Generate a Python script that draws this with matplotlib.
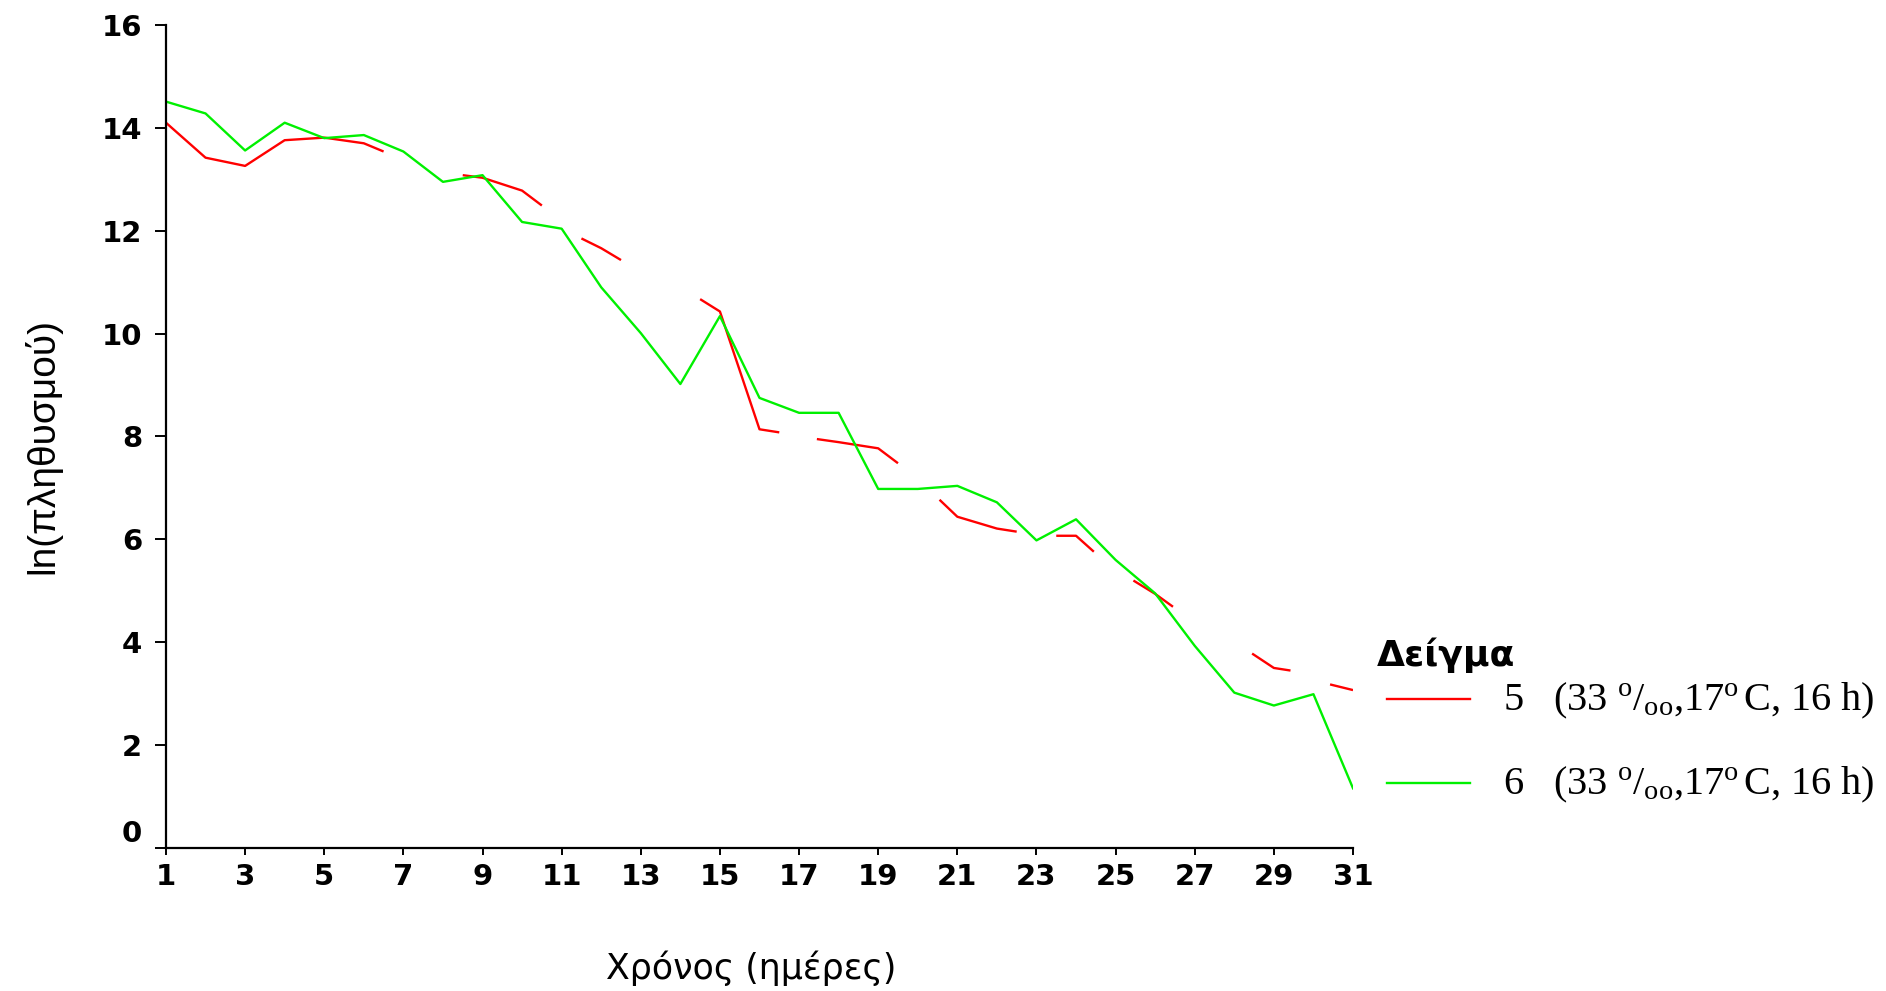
import numpy as np
import matplotlib
matplotlib.use("Agg")
import matplotlib.pyplot as plt
from matplotlib.lines import Line2D

# ---------------- data ----------------
days = list(range(1, 32))
green_values = [14.51, 14.28, 13.56, 14.10, 13.80, 13.86, 13.54, 12.95, 13.08, 12.17,
                12.04, 10.90, 10.01, 9.02, 10.34, 8.75, 8.46, 8.46, 6.98, 6.98,
                7.04, 6.72, 5.98, 6.39, 5.60, 4.95, 3.93, 3.02, 2.77, 2.99, 1.16]

# red series is drawn as a broken line (gaps marked by None)
red_days = [1, 2, 3, 4, 5, 6, 6.5, None,
            8.5, 9, 10, 10.5, None,
            11.5, 12, 12.5, None,
            14.5, 15, 16, 16.5, None,
            17.45, 18, 19, 19.5, None,
            20.55, 21, 22, 22.5, None,
            23.5, 24, 24.45, None,
            25.45, 26, 26.45, None,
            28.45, 29, 29.42, None,
            30.42, 31]
red_values = [14.10, 13.42, 13.26, 13.76, 13.81, 13.70, 13.54, None,
              13.08, 13.03, 12.78, 12.49, None,
              11.85, 11.66, 11.43, None,
              10.67, 10.43, 8.14, 8.08, None,
              7.95, 7.89, 7.77, 7.48, None,
              6.77, 6.44, 6.21, 6.15, None,
              6.07, 6.07, 5.76, None,
              5.20, 4.94, 4.69, None,
              3.78, 3.50, 3.45, None,
              3.18, 3.07]

x_ticks = list(range(1, 32, 2))
y_ticks = list(range(0, 17, 2))

legend_title = "Δείγμα"
label_red = r"5   (33 $^{\mathrm{o}}/_{\mathrm{oo}}$,17$^{\mathrm{o}}\,$C, 16 h)"
label_green = r"6   (33 $^{\mathrm{o}}/_{\mathrm{oo}}$,17$^{\mathrm{o}}\,$C, 16 h)"

# ---------------- style ----------------
plt.rcParams['mathtext.fontset'] = 'custom'
plt.rcParams['mathtext.rm'] = 'Liberation Serif'
plt.rcParams['mathtext.it'] = 'Liberation Serif:italic'
plt.rcParams['mathtext.bf'] = 'Liberation Serif:bold'

W, H = 1886, 991
fig = plt.figure(figsize=(W / 100, H / 100), dpi=100)
ax = fig.add_axes([0.0880, 0.1443, 0.6294, 0.8305])

rx = np.array([np.nan if v is None else v for v in red_days], dtype=float)
ry = np.array([np.nan if v is None else v for v in red_values], dtype=float)

red_line, = ax.plot(rx, ry, color='#ff0000', lw=1.7, solid_capstyle='butt')
green_line, = ax.plot(days, green_values, color='#00f000', lw=1.7)

ax.set_xlim(1, 31)
ax.set_ylim(0, 16)
ax.set_xticks(x_ticks)
ax.set_yticks(y_ticks)

for s in ['top', 'right']:
    ax.spines[s].set_visible(False)
for s in ['left', 'bottom']:
    ax.spines[s].set_linewidth(1.6)
    ax.spines[s].set_color('black')

ax.tick_params(axis='y', direction='out', length=8, width=1.4, pad=9,
               labelsize=21)
ax.tick_params(axis='x', direction='out', length=5, width=1.4, pad=6,
               labelsize=21)
for t in ax.get_xticklabels() + ax.get_yticklabels():
    t.set_fontweight('bold')
    t.set_family('DejaVu Sans')
ax.get_yticklabels()[0].set_va('bottom')

ax.set_xlabel("Χρόνος (ημέρες)", fontsize=25, family='DejaVu Sans', va='center')
ax.xaxis.set_label_coords(0.4933, -0.1458)
ax.set_ylabel("ln(πληθυσμού)", fontsize=28, family='Liberation Sans', va='center')
ax.yaxis.set_label_coords(-0.1045, 0.4885)

# ---------------- legend (placed in figure pixels) ----------------
def fx(px):
    return px / W

def fy(py):
    return 1 - py / H

fig.text(fx(1377), fy(655), legend_title, fontsize=26, fontweight='bold',
         family='DejaVu Sans', ha='left', va='center')
for line, label, py in [(red_line, label_red, 699), (green_line, label_green, 783)]:
    fig.add_artist(Line2D([fx(1387), fx(1470)], [fy(py), fy(py)],
                          transform=fig.transFigure, color=line.get_color(),
                          lw=line.get_linewidth()))
    fig.text(fx(1503), fy(py + 2), label, fontsize=29, family='Liberation Serif',
             ha='left', va='center')

fig.savefig("out.png", dpi=100)
